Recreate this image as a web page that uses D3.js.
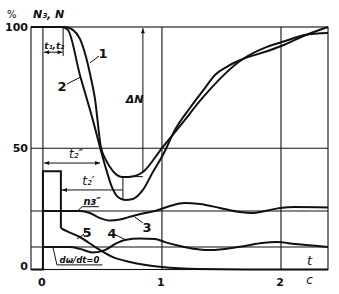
<!DOCTYPE html>
<html>
<head>
<meta charset="utf-8">
<script src="https://cdn.jsdelivr.net/npm/d3@7"></script>
<style>
  body { margin: 0; background: #fff; }
  text { font-family: "DejaVu Sans", sans-serif; fill: #111; }
</style>
</head>
<body>
<div id="chart"></div>
<script>
const width = 339;
const height = 294;

// Data (t in s, values in %).
const yTicks = [0, 50, 100];
const xTicks = [0, 1, 2];
const refLevels = [24.1, 9.3];

// curve 1
const curve1 = [
  [-0.1, 100], [0.185, 100], [0.252, 98.8], [0.311, 95.1], [0.361, 87.8], [0.395, 80.8],
  [0.437, 70.5], [0.487, 50.5], [0.529, 45.2], [0.588, 40.6], [0.672, 38.1], [0.773, 38.6],
  [0.84, 40.2], [1.0, 50.1], [1.185, 61.2], [1.319, 69.5], [1.68, 86.8], [1.882, 91.8],
  [2.034, 94.2], [2.2, 96.7], [2.395, 97.5]
];

// curve 2
const curve2 = [
  [-0.1, 100], [0.16, 100], [0.21, 98.8], [0.311, 80.2], [0.42, 61.6], [0.479, 50.5],
  [0.521, 43.1], [0.58, 34], [0.63, 29.9], [0.689, 28.7], [0.756, 29.1], [0.84, 32.8],
  [0.924, 40.2], [1.008, 47.2], [1.109, 57.5], [1.235, 66.6], [1.361, 74.8], [1.445, 80.2],
  [1.555, 83.9], [1.68, 86.8], [1.882, 90], [2.034, 92.8], [2.2, 96.5], [2.395, 100]
];

// curve 3
const curve3 = [
  [0, 24.1], [0.311, 24.1], [0.395, 23.3], [0.479, 21.2], [0.563, 20.2], [0.647, 20.6],
  [0.756, 22.1], [0.857, 23.3], [0.941, 24.1], [1.067, 26.2], [1.193, 27.4], [1.319, 27],
  [1.487, 25.4], [1.655, 23.7], [1.756, 23.3], [1.866, 24.1], [1.992, 25.4], [2.118, 25.8],
  [2.395, 25.6]
];

// curve 4
const curve4 = [
  [0, 9.3], [0.227, 9.3], [0.311, 8.5], [0.42, 7], [0.521, 8], [0.605, 10.5], [0.689, 12.2],
  [0.815, 12.8], [0.941, 12.6], [1.025, 11.3], [1.151, 9.7], [1.277, 8.5], [1.378, 8],
  [1.529, 8.5], [1.697, 9.7], [1.84, 10.9], [1.966, 11.3], [2.118, 10.5], [2.395, 9.3]
];

// curve 5: step then decay
const curve5Step = [[-0.1, 0], [0, 0], [0, 40.5], [0.151, 40.5], [0.151, 17.1]];
const curve5Tail = [
  [0.151, 17.1], [0.2, 15.8], [0.31, 13.4], [0.454, 8.8], [0.588, 5.1], [0.731, 3.1],
  [1.0, 1.0], [1.31, 0.2], [1.8, 0], [2.395, 0]
];

const x = d3.scaleLinear().domain([-0.1, 2.395]).range([31, 328]);
const y = d3.scaleLinear().domain([0, 100]).range([269.5, 27]);

const svg = d3.select("#chart")
  .append("svg")
  .attr("width", width)
  .attr("height", height);

// frame + grid
const grid = svg.append("g")
  .attr("stroke", "#111")
  .attr("stroke-width", 1.1)
  .attr("fill", "none");

grid.append("rect")
  .attr("x", x(-0.1))
  .attr("y", y(100))
  .attr("width", x(2.395) - x(-0.1))
  .attr("height", y(0) - y(100));

grid.selectAll("line.v")
  .data(xTicks)
  .join("line")
  .attr("class", "v")
  .attr("x1", d => x(d)).attr("x2", d => x(d))
  .attr("y1", y(0)).attr("y2", y(100));

grid.selectAll("line.h")
  .data([50].concat(refLevels))
  .join("line")
  .attr("class", "h")
  .attr("x1", x(-0.1)).attr("x2", x(2.395))
  .attr("y1", d => y(d)).attr("y2", d => y(d));

// tick labels
svg.selectAll("text.yt")
  .data(yTicks)
  .join("text")
  .attr("class", "yt")
  .attr("x", 28)
  .attr("y", d => y(d) + (d === 0 ? 0 : 4))
  .attr("text-anchor", "end")
  .attr("font-size", 11)
  .attr("font-weight", "bold")
  .text(d => d);

svg.selectAll("text.xt")
  .data(xTicks)
  .join("text")
  .attr("class", "xt")
  .attr("x", d => x(d) - 1)
  .attr("y", 286)
  .attr("text-anchor", "middle")
  .attr("font-size", 11)
  .attr("font-weight", "bold")
  .text(d => d);

svg.append("text").attr("x", x(2.24)).attr("y", 284)
  .attr("text-anchor", "middle").attr("font-size", 12).attr("font-style", "italic").text("с");
svg.append("text").attr("x", x(2.24)).attr("y", 265)
  .attr("text-anchor", "middle").attr("font-size", 13).attr("font-style", "italic").text("t");

svg.append("text").attr("x", 7).attr("y", 18)
  .attr("font-size", 10).text("%");
svg.append("text").attr("x", 33).attr("y", 18)
  .attr("font-size", 11).attr("font-style", "italic").attr("font-weight", "bold").text("N₃, N");

// curves
const line = d3.line().x(d => x(d[0])).y(d => y(d[1])).curve(d3.curveMonotoneX);
const stepLine = d3.line().x(d => x(d[0])).y(d => y(d[1]));

const curves = svg.append("g")
  .attr("fill", "none")
  .attr("stroke", "#111")
  .attr("stroke-width", 2)
  .attr("stroke-linejoin", "round");

[curve1, curve2, curve3, curve4, curve5Tail].forEach(c => {
  curves.append("path").attr("d", line(c));
});
curves.append("path").attr("d", stepLine(curve5Step)).attr("stroke-linejoin", "miter");

// annotations
svg.append("defs").append("marker")
  .attr("id", "arr")
  .attr("viewBox", "0 0 10 10")
  .attr("refX", 10).attr("refY", 5)
  .attr("markerWidth", 7).attr("markerHeight", 5)
  .attr("orient", "auto-start-reverse")
  .append("path").attr("d", "M0,1 L10,5 L0,9 z").attr("fill", "#111");

const ann = svg.append("g").attr("stroke", "#111").attr("stroke-width", 1).attr("fill", "none");

// ΔN
ann.append("line")
  .attr("x1", x(0.84)).attr("x2", x(0.84))
  .attr("y1", y(40.2)).attr("y2", y(99.5))
  .attr("marker-end", "url(#arr)");
ann.append("line")
  .attr("x1", x(0.73)).attr("x2", x(0.84))
  .attr("y1", y(38.3)).attr("y2", y(38.3));
svg.append("text").attr("x", x(0.77)).attr("y", y(68.5))
  .attr("text-anchor", "middle").attr("font-size", 11).attr("font-style", "italic")
  .attr("font-weight", "bold").text("ΔN");

// t1,t2 box
ann.append("line")
  .attr("x1", x(0.17)).attr("x2", x(0.17))
  .attr("y1", y(100)).attr("y2", y(88));
ann.append("line")
  .attr("x1", x(0.01)).attr("x2", x(0.165))
  .attr("y1", y(89.6)).attr("y2", y(89.6))
  .attr("marker-start", "url(#arr)").attr("marker-end", "url(#arr)");
svg.append("text").attr("x", x(0.012)).attr("y", y(90.8))
  .attr("font-size", 9).attr("font-style", "italic").attr("font-weight", "bold")
  .text("t₁,t₂");

// t2''
ann.append("line")
  .attr("x1", x(0.01)).attr("x2", x(0.48))
  .attr("y1", y(43.9)).attr("y2", y(43.9))
  .attr("marker-start", "url(#arr)").attr("marker-end", "url(#arr)");
svg.append("text").attr("x", x(0.22)).attr("y", y(46))
  .attr("font-size", 12).attr("font-style", "italic").text("t₂″");

// t2'
ann.append("line")
  .attr("x1", x(0.16)).attr("x2", x(0.672))
  .attr("y1", y(32.8)).attr("y2", y(32.8))
  .attr("marker-start", "url(#arr)");
ann.append("line")
  .attr("x1", x(0.672)).attr("x2", x(0.672))
  .attr("y1", y(29)).attr("y2", y(38));
svg.append("text").attr("x", x(0.33)).attr("y", y(35))
  .attr("font-size", 12).attr("font-style", "italic").text("t₂′");

// n3''
ann.append("polyline")
  .attr("points", [[0.294, 24.3], [0.33, 25.9], [0.47, 25.9]].map(d => [x(d[0]), y(d[1])].join(",")).join(" "));
svg.append("text").attr("x", x(0.34)).attr("y", y(26.6))
  .attr("font-size", 10).attr("font-style", "italic").attr("font-weight", "bold")
  .text("nз″");

// dω/dt=0
ann.append("polyline")
  .attr("points", [[0.084, 9.3], [0.118, 1.9], [0.5, 1.9]].map(d => [x(d[0]), y(d[1])].join(",")).join(" "));
svg.append("text").attr("x", x(0.14)).attr("y", y(2.6))
  .attr("font-size", 8.5).attr("font-style", "italic").attr("font-weight", "bold")
  .text("dω/dt=0");

// curve numbers with leaders
const labels = [
  { n: "1", at: [0.504, 89.3], from: [0.471, 88.0], to: [0.395, 85.2] },
  { n: "2", at: [0.16, 75.7], from: [0.202, 76.5], to: [0.319, 79.4] },
  { n: "3", at: [0.874, 17.5], from: [0.84, 19.2], to: [0.773, 21.6] },
  { n: "4", at: [0.58, 15.1], from: [0.613, 14.2], to: [0.697, 12.2] },
  { n: "5", at: [0.37, 15.5], from: [0.345, 14.6], to: [0.286, 12.6] }
];

labels.forEach(l => {
  ann.append("line")
    .attr("x1", x(l.from[0])).attr("y1", y(l.from[1]))
    .attr("x2", x(l.to[0])).attr("y2", y(l.to[1]));
  svg.append("text")
    .attr("x", x(l.at[0])).attr("y", y(l.at[1]) + 5)
    .attr("text-anchor", "middle")
    .attr("font-size", 13).attr("font-weight", "bold")
    .text(l.n);
});
</script>
</body>
</html>
